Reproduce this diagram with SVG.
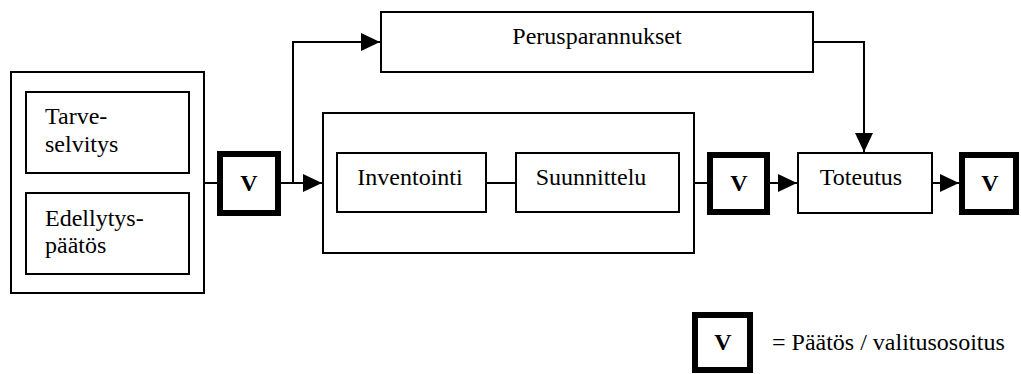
<svg xmlns="http://www.w3.org/2000/svg" width="1021" height="374" viewBox="0 0 1021 374" font-family="Liberation Serif, Times New Roman, serif">
<style>
.box{fill:#fff;stroke:#000;stroke-width:2}
.vbox{fill:#fff;stroke:#000;stroke-width:6}
text{font-family:"Liberation Serif","Times New Roman",serif}
.t{font-size:24px;fill:#000}
.v{font-size:24px;font-weight:bold;fill:#000;text-anchor:middle}
.c{fill:none;stroke:#000;stroke-width:2}
</style>
<defs>
<marker id="ah" markerWidth="19" markerHeight="18" refX="19" refY="9" orient="auto" markerUnits="userSpaceOnUse">
<path d="M0,0 L19,9 L0,18 Z" fill="#000"/>
</marker>
</defs>
<rect width="1021" height="374" fill="#fff"/>
<g id="esivaihe">
<rect class="box" x="11" y="72" width="193" height="221"/>
</g>
<g id="tarveselvitys">
<rect class="box" x="26" y="92" width="163" height="81"/>
<text class="t" x="45" y="124" font-family="Liberation Serif">Tarve-</text>
<text class="t" x="45" y="152" font-family="Liberation Serif">selvitys</text>
</g>
<g id="edellytyspaatos">
<rect class="box" x="26" y="193" width="163" height="81"/>
<text class="t" x="45" y="226" font-family="Liberation Serif">Edellytys-</text>
<text class="t" x="45" y="253" font-family="Liberation Serif">päätös</text>
</g>
<g id="v1">
<rect class="vbox" x="220" y="154" width="58" height="59"/>
<text class="v" x="249" y="191" font-family="Liberation Serif">V</text>
</g>
<g id="perusparannukset">
<rect class="box" x="381" y="12" width="432" height="60"/>
<text class="t" x="597" y="44" text-anchor="middle" font-family="Liberation Serif">Perusparannukset</text>
</g>
<g id="suunnitteluvaihe">
<rect class="box" x="323" y="113" width="371" height="140"/>
</g>
<g id="inventointi">
<rect class="box" x="337" y="153" width="149" height="59"/>
<text class="t" x="410" y="185" text-anchor="middle" font-family="Liberation Serif">Inventointi</text>
</g>
<g id="suunnittelu">
<rect class="box" x="516" y="153" width="163" height="59"/>
<text class="t" x="591" y="185" text-anchor="middle" font-family="Liberation Serif">Suunnittelu</text>
</g>
<g id="v2">
<rect class="vbox" x="710" y="155" width="57" height="57"/>
<text class="v" x="739" y="191" font-family="Liberation Serif">V</text>
</g>
<g id="toteutus">
<rect class="box" x="798" y="153" width="134" height="60"/>
<text class="t" x="861" y="185" text-anchor="middle" font-family="Liberation Serif">Toteutus</text>
</g>
<g id="v3">
<rect class="vbox" x="962" y="155" width="54" height="57"/>
<text class="v" x="990" y="191" font-family="Liberation Serif">V</text>
</g>
<g id="legend">
<rect class="vbox" x="695" y="315" width="55" height="55"/>
<text class="v" x="723" y="350" font-family="Liberation Serif">V</text>
<text class="t" x="772" y="350" font-family="Liberation Serif">= Päätös / valitusosoitus</text>
</g>
<g id="connectors">
<line class="c" x1="204" y1="183" x2="217" y2="183"/>
<polyline class="c" points="281,183 293,183 293,42 380,42" marker-end="url(#ah)"/>
<line class="c" x1="281" y1="183" x2="322" y2="183" marker-end="url(#ah)"/>
<line class="c" x1="487" y1="183" x2="515" y2="183"/>
<line class="c" x1="695" y1="183" x2="707" y2="183"/>
<line class="c" x1="770" y1="183" x2="797" y2="183" marker-end="url(#ah)"/>
<line class="c" x1="933" y1="183" x2="959" y2="183" marker-end="url(#ah)"/>
<polyline class="c" points="814,42 864,42 864,152" marker-end="url(#ah)"/>
</g>
</svg>
